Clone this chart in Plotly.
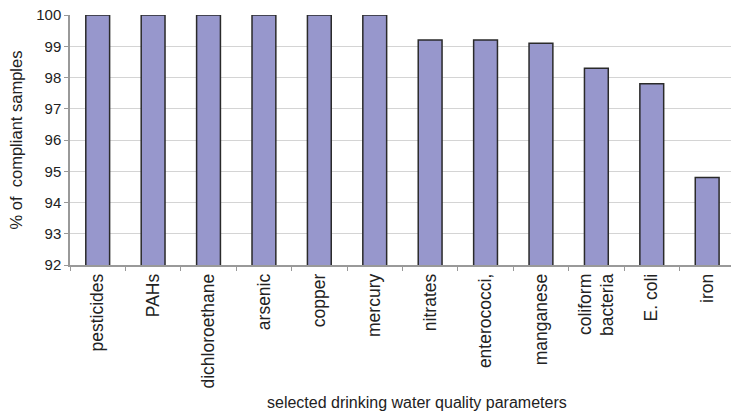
import plotly.graph_objects as go

categories = ["pesticides", "PAHs", "dichloroethane", "arsenic", "copper", "mercury",
              "nitrates", "enterococci,", "manganese", "coliform<br>bacteria", "E. coli", "iron"]
values = [100, 100, 100, 100, 100, 100, 99.2, 99.2, 99.1, 98.3, 97.8, 94.8]
y_ticks = [92, 93, 94, 95, 96, 97, 98, 99, 100]
x_title = "selected drinking water quality parameters"
y_title = "% of  compliant samples"

fig = go.Figure()
fig.add_trace(go.Bar(
    x=categories, y=values, width=0.43,
    marker=dict(color="#9797cc", line=dict(color="#2a2a2a", width=1.5)),
))

font_col = "#222222"
fig.update_layout(
    width=731, height=416,
    margin=dict(l=70, r=0, t=15, b=151, autoexpand=False),
    paper_bgcolor="white", plot_bgcolor="white",
    showlegend=False,
    font=dict(family="Liberation Sans, Arial, sans-serif", color=font_col),
    xaxis=dict(
        type="category", range=[-0.5, 11.43], automargin=False,
        tickangle=-90, tickfont=dict(size=17.5, color=font_col),
        ticks="outside", ticklen=4, tickcolor="#999999", tickson="boundaries",
        showline=True, linecolor="#999999", linewidth=1.5,
        showgrid=False,
    ),
    yaxis=dict(
        range=[92, 100], tickvals=y_ticks, automargin=False,
        tickfont=dict(size=15, color=font_col),
        ticks="outside", ticklen=4, tickcolor="#999999",
        showline=True, linecolor="#999999", linewidth=1.5,
        showgrid=True, gridcolor="#d4d4d4", gridwidth=1,
        zeroline=False,
        title=dict(text=y_title, font=dict(size=16.5, color=font_col), standoff=9),
    ),
    annotations=[dict(
        text=x_title, xref="paper", yref="paper", x=0.525, y=-0.548,
        xanchor="center", yanchor="middle", showarrow=False,
        font=dict(size=16, color=font_col),
    )],
)

fig.write_html("out.html", config={"displayModeBar": False},
               post_script="document.body.style.margin='0';document.body.style.padding='0';")
